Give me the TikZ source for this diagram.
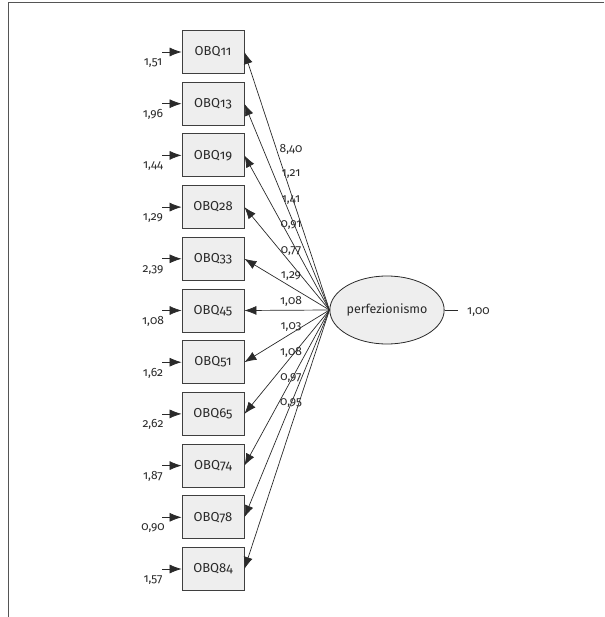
\documentclass[tikz,border=0pt]{standalone}
\usepackage{fontspec}
\setmainfont{Fira Sans}[Numbers=OldStyle]
\usetikzlibrary{shapes.geometric,arrows.meta}
\definecolor{ink}{HTML}{2A2A2A}
\definecolor{boxfill}{HTML}{EEEEEE}
\tikzset{
  obsbox/.style={draw=ink!90,fill=boxfill,line width=0.8pt,minimum width=62pt,minimum height=43pt,inner sep=0pt,font=\fontsize{13}{15}\selectfont,text=ink},
  latent/.style={ellipse,draw=ink,fill=boxfill,line width=0.8pt,minimum width=102pt,minimum height=68pt,inner sep=0pt,font=\fontsize{12.5}{15}\selectfont,text=ink},
  lbl/.style={font=\fontsize{12}{14}\selectfont,text=ink,inner sep=0pt},
  conn/.style={draw=ink,line width=0.7pt,-{Latex[length=12pt,width=9pt]}},
}
\begin{document}
\begin{tikzpicture}[x=1pt,y=-1pt]
\useasboundingbox (0,0) rectangle (604,617);
\draw[ink!80,line width=0.8pt] (604,2) -- (8,2) -- (8,617);
\node[latent] (per) at (387,310) {perfezionismo};
\coordinate (one) at (458,310);
\draw[ink,line width=0.7pt] (per.east) -- (one);
\node[lbl,anchor=west] (onelbl) at (467,312) {1,00};
\foreach \n/\e/\l [count=\i from 0] in {11/{1,51}/{8,40}, 13/{1,96}/{1,21}, 19/{1,44}/{1,41}, 28/{1,29}/{0,91}, 33/{2,39}/{0,77}, 45/{1,08}/{1,29}, 51/{1,62}/{1,08}, 65/{2,62}/{1,03}, 74/{1,87}/{1,08}, 78/{0,90}/{0,97}, 84/{1,57}/{0,95}}{
  \pgfmathsetmacro{\yy}{52+51.7*\i}
  \pgfmathsetmacro{\ly}{149+25.4*\i}
  \node[obsbox] (b\n) at (213,\yy) {OBQ\n};
  \coordinate (e\n) at (162,\yy);
  \draw[conn] (e\n) -- (b\n.west);
  \node[lbl] (el\n) at (153,\yy+11) {\e};
  \draw[conn] (per.west) -- (b\n.east);
  \node[lbl] (ll\n) at (291,\ly) {\l};
}
\end{tikzpicture}
\end{document}
